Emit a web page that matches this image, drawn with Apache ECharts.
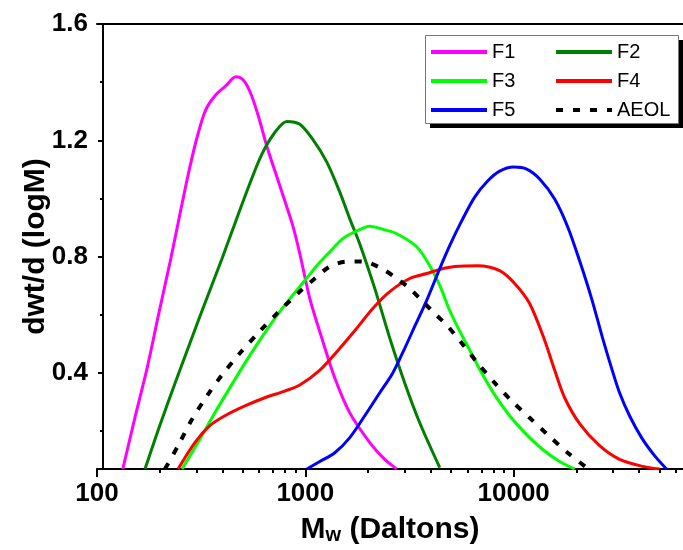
<!DOCTYPE html>
<html>
<head>
<meta charset="utf-8">
<script src="https://cdn.jsdelivr.net/npm/echarts@6/dist/echarts.min.js"></script>
<style>
  html, body { margin: 0; padding: 0; background: #fff; }
  #chart { width: 683px; height: 550px; }
</style>
</head>
<body>
<div id="chart"></div>
<script>
// molecular weight (Daltons) and dwt/d(logM)
const f1Mw = [133,152,174,198,226,253,279,305,333,372,416,464,501,542,592,654,755,871,941,1051,1200,1385,1635,2039,2406,2747];
const f1Val = [0.07,0.246,0.417,0.605,0.793,0.964,1.108,1.221,1.306,1.357,1.388,1.419,1.409,1.368,1.289,1.179,1.043,0.906,0.81,0.656,0.520,0.383,0.263,0.161,0.103,0.07];

const f2Mw = [170,200,245,312,398,464,536,618,714,815,941,1086,1268,1464,1635,1825,2154,2543,3000,3541,4418];
const f2Val = [0.07,0.219,0.393,0.595,0.793,0.923,1.043,1.152,1.227,1.265,1.255,1.203,1.125,1.022,0.930,0.844,0.691,0.520,0.366,0.229,0.075];

const f3Mw = [256,305,368,434,513,605,714,843,995,1148,1311,1513,1728,2039,2406,2747,3425,3955,4418,4932,5508,6152,7023,8110,9567,11290,13780,16620,19620];
const f3Val = [0.07,0.161,0.263,0.349,0.434,0.513,0.588,0.656,0.718,0.773,0.817,0.862,0.885,0.905,0.892,0.879,0.834,0.769,0.701,0.615,0.544,0.479,0.400,0.325,0.253,0.195,0.137,0.096,0.07];

const f4Mw = [245,295,348,411,513,639,797,941,1174,1464,1766,2107,2543,3171,3825,4418,5212,6720,8568,10110,11930,14080,15730,17570,20730,25850,32240,41560,50140];
const f4Val = [0.07,0.161,0.219,0.253,0.287,0.315,0.338,0.359,0.410,0.485,0.554,0.622,0.680,0.725,0.742,0.756,0.766,0.769,0.752,0.708,0.639,0.513,0.410,0.315,0.226,0.150,0.103,0.079,0.07];

const f5Mw = [1017,1174,1385,1635,1929,2277,2629,3000,3388,3825,4418,4932,5630,6501,7504,8568,10000,11550,13330,15730,18160,20730,23670,26730,29510,32240,36000,41110,47460,54190];
const f5Val = [0.07,0.096,0.126,0.178,0.253,0.332,0.400,0.485,0.568,0.650,0.759,0.838,0.923,1.005,1.060,1.094,1.108,1.101,1.067,0.998,0.903,0.786,0.656,0.520,0.417,0.332,0.253,0.178,0.116,0.07];

const aeolMw = [212,245,285,337,398,485,605,755,941,1111,1311,1581,1887,2328,2747,3171,3660,4273,4826,5630,6720,8110,9782,11930,14560,18160,22390];
const aeolVal = [0.07,0.150,0.239,0.321,0.393,0.468,0.544,0.615,0.680,0.725,0.766,0.783,0.783,0.759,0.725,0.691,0.646,0.598,0.561,0.503,0.434,0.366,0.304,0.246,0.188,0.126,0.075];

const xMajorTicks = [100, 1000, 10000];
const xMinorTicks = [200,300,400,500,600,700,800,900,2000,3000,4000,5000,6000,7000,8000,9000,20000,30000,40000,50000,60000];
const yMajorTicks = [0.4, 0.8, 1.2, 1.6];
const yMinorTicks = [0.2, 0.6, 1.0, 1.4];

const font = "'Liberation Sans', Arial, sans-serif";
const chart = echarts.init(document.getElementById('chart'));

function pairs(xs, ys) {
  return xs.map((x, i) => [x, ys[i]]);
}
function curve(name, color, xs, ys, dashed) {
  return {
    name: name,
    type: 'line',
    data: pairs(xs, ys),
    symbol: 'none',
    smooth: 0.3,
    lineStyle: { color: color, width: dashed ? 4 : 3, type: dashed ? [7, 10] : 'solid' },
    itemStyle: { color: color }
  };
}

const xMin = 100, xMax = 65000, yMin = 0.07, yMax = 1.6;

chart.setOption({
  animation: false,
  grid: { left: 97, right: 0, top: 24, bottom: 79 },
  // legend frame with its drop shadow
  graphic: [
    { type: 'rect', left: 430, top: 40, z: 3, silent: true,
      shape: { width: 253, height: 88 }, style: { fill: '#000' } },
    { type: 'rect', left: 425, top: 35, z: 3, silent: true,
      shape: { width: 253, height: 88 }, style: { fill: '#fff', stroke: '#777', lineWidth: 1 } }
  ],
  legend: {
    data: ['F1', 'F2', 'F3', 'F4', 'F5', 'AEOL'],
    left: 425,
    top: 35,
    width: 256,
    orient: 'horizontal',
    itemWidth: 56,
    itemHeight: 14,
    itemGap: 9,
    padding: [7, 12, 4, 4],
    z: 5,
    itemStyle: { opacity: 0 },
    lineStyle: { width: 4 },
    textStyle: { fontSize: 20, fontFamily: font, color: '#000', width: 53, lineHeight: 20 }
  },
  xAxis: [
    {
      type: 'log', min: xMin, max: xMax, position: 'bottom',
      axisLine: { show: true, lineStyle: { color: '#000', width: 2 } },
      axisTick: { show: true, customValues: xMajorTicks, length: 8, lineStyle: { color: '#000', width: 2 } },
      axisLabel: {
        customValues: xMajorTicks, margin: 12,
        formatter: v => String(Math.round(v)),
        fontSize: 26, fontWeight: 'bold', fontFamily: font, color: '#000'
      },
      splitLine: { show: false },
      name: '{m|M}{w|w} (Daltons)',
      nameLocation: 'middle',
      nameGap: 46,
      nameMoveOverlap: false,
      nameTextStyle: {
        fontSize: 30, fontWeight: 'bold', fontFamily: font, color: '#000',
        rich: {
          m: { fontSize: 30, fontWeight: 'bold', fontFamily: font, color: '#000' },
          w: { fontSize: 20, fontWeight: 'bold', fontFamily: font, color: '#000', verticalAlign: 'bottom' }
        }
      }
    },
    {
      type: 'log', min: xMin, max: xMax, position: 'bottom',
      axisLine: { show: false },
      axisTick: { show: true, customValues: xMinorTicks, length: 4, lineStyle: { color: '#000', width: 2 } },
      axisLabel: { show: false },
      splitLine: { show: false }
    },
    {
      type: 'log', min: xMin, max: xMax, position: 'top',
      axisLine: { show: true, lineStyle: { color: '#000', width: 2 } },
      axisTick: { show: false },
      axisLabel: { show: false },
      splitLine: { show: false }
    }
  ],
  yAxis: [
    {
      type: 'value', min: yMin, max: yMax, offset: -6, position: 'left',
      axisLine: { show: true, onZero: false, lineStyle: { color: '#000', width: 2 } },
      axisTick: { show: true, customValues: yMajorTicks, length: 5, lineStyle: { color: '#000', width: 2 } },
      axisLabel: {
        customValues: yMajorTicks, margin: 15,
        formatter: v => v.toFixed(1),
        fontSize: 26, fontWeight: 'bold', fontFamily: font, color: '#000'
      },
      splitLine: { show: false },
      name: 'dwt/d (logM)',
      nameLocation: 'middle',
      nameGap: 52,
      nameMoveOverlap: false,
      nameTextStyle: { fontSize: 30, fontWeight: 'bold', fontFamily: font, color: '#000' }
    },
    {
      type: 'value', min: yMin, max: yMax, offset: -6, position: 'left',
      axisLine: { show: false, onZero: false },
      axisTick: { show: true, customValues: yMinorTicks, length: 3, lineStyle: { color: '#000', width: 2 } },
      axisLabel: { show: false },
      splitLine: { show: false }
    }
  ],
  series: [
    curve('F1', '#ff00ff', f1Mw, f1Val),
    curve('F2', '#007f00', f2Mw, f2Val),
    curve('F3', '#00ff00', f3Mw, f3Val),
    curve('F4', '#ff0000', f4Mw, f4Val),
    curve('F5', '#0000ff', f5Mw, f5Val),
    curve('AEOL', '#000000', aeolMw, aeolVal, true)
  ]
});
</script>
</body>
</html>
